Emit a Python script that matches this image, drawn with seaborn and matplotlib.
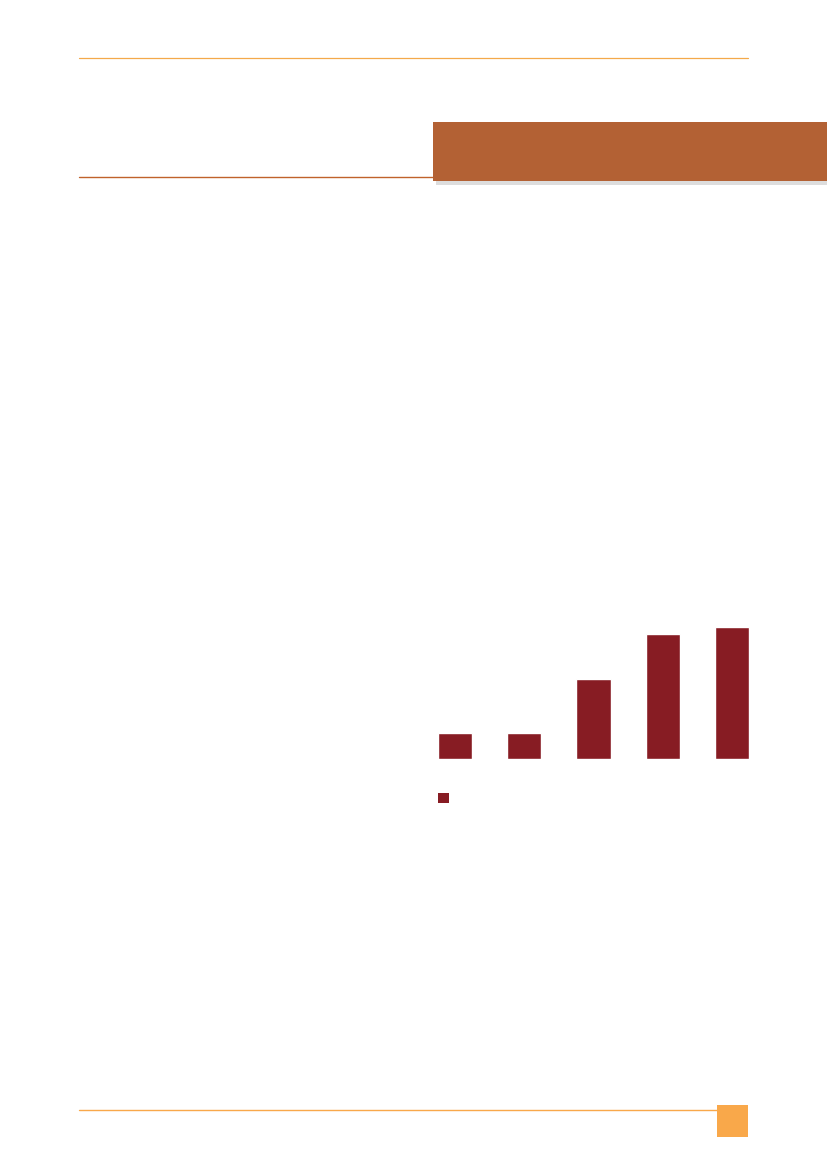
import matplotlib
matplotlib.use("Agg")
import matplotlib.pyplot as plt
from matplotlib.patches import Rectangle
from matplotlib.lines import Line2D
import seaborn as sns
import pandas as pd

# data (no labels are shown in the reference; values read as relative bar heights)
categories = ["1", "2", "3", "4", "5"]
values = [26, 26, 80, 125, 132]

W, H = 827, 1169
sns.set_theme(style="white")
fig = plt.figure(figsize=(W / 100, H / 100), dpi=100)
fig.patch.set_facecolor("white")

def fx(px):
    return px / W

def fy(py):
    return 1 - py / H

# page decorations
fig.add_artist(Line2D([fx(79), fx(748)], [fy(58), fy(58)], color="#F4A94A", lw=0.9))
fig.add_artist(Line2D([fx(79), fx(433)], [fy(176.5), fy(176.5)], color="#C0622B", lw=1.0))
# header box shadow
fig.add_artist(Rectangle((fx(436), fy(185)), fx(827 - 436), (185 - 125) / H,
                         transform=fig.transFigure, color="#DDDDDD", lw=0, zorder=1))
fig.add_artist(Rectangle((fx(433), fy(181)), fx(827 - 433), (181 - 122) / H,
                         transform=fig.transFigure, color="#B36134", lw=0, zorder=2))
fig.add_artist(Line2D([fx(79), fx(717)], [fy(1109.5), fy(1109.5)], color="#F9A84A", lw=1.0))
fig.add_artist(Rectangle((fx(717), fy(1137)), fx(748 - 717), (1137 - 1105) / H,
                         transform=fig.transFigure, color="#F9A84A", lw=0))

# chart
ax = fig.add_axes([fx(420), fy(759), fx(767 - 420), (759 - 600) / H])
df = pd.DataFrame({"cat": categories, "val": values})
sns.barplot(data=df, x="cat", y="val", color="#871C23", saturation=1, width=0.49, ax=ax)
ax.set_xlim(-0.5, 4.5)
ax.set_ylim(0, 159)
ax.set_axis_off()

# legend marker
fig.add_artist(Rectangle((fx(438), fy(803)), fx(11), 10 / H,
                         transform=fig.transFigure, color="#871C23", lw=0))

fig.savefig("out.png", dpi=100, facecolor="white")
